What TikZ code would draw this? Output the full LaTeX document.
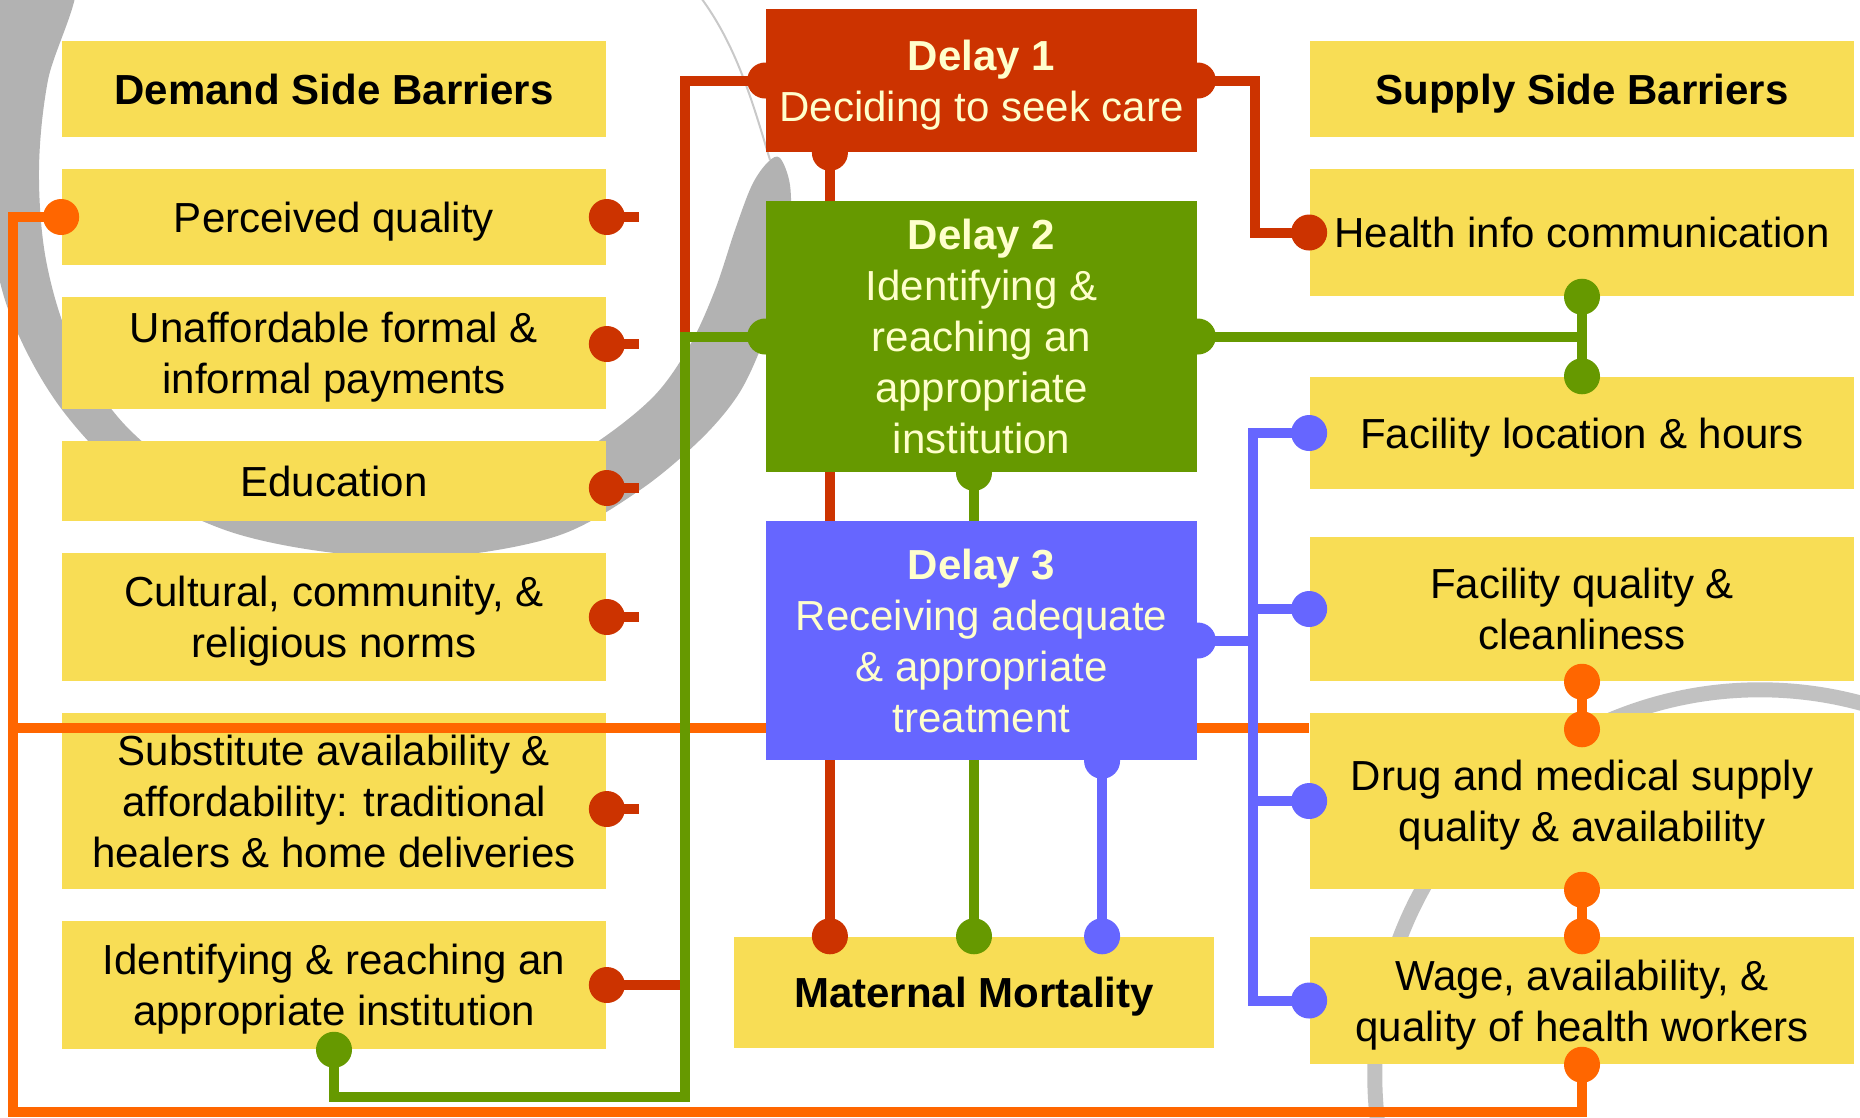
\documentclass[tikz,border=0pt]{standalone}
\usepackage{fontspec}
\setmainfont{Liberation Sans}
\usetikzlibrary{positioning, calc}
\definecolor{barrier_yellow}{RGB}{248, 221, 85}
\definecolor{delay_red}{RGB}{204, 51, 0}
\definecolor{delay_green}{RGB}{102, 153, 0}
\definecolor{delay_blue}{RGB}{102, 102, 255}
\definecolor{link_orange}{RGB}{255, 102, 0}
\definecolor{cream}{RGB}{255, 255, 204}
\definecolor{mark_gray}{RGB}{178, 178, 178}
\pgfdeclarelayer{wires}
\pgfdeclarelayer{top}
\pgfdeclarelayer{knobs}
\pgfsetlayers{main,wires,top,knobs}
\def \tstrut {\rule[-2.9pt]{0pt}{14.36pt}}

\begin{document}
\begin{tikzpicture}[
    x=0.01cm, y=-0.01cm,
    barrier/.style={
        rectangle,
        fill=barrier_yellow,
        minimum width=5.44cm,
        minimum height=#1,
        inner sep=0pt,
        text=black,
        align=center,
        font=\fontsize{11.95}{14.5}\selectfont
    },
    header/.style={
        barrier=#1,
        font=\fontsize{11.95}{14.5}\selectfont\bfseries
    },
    delay/.style={
        rectangle,
        fill=#1,
        minimum width=4.31cm,
        inner sep=0pt,
        text=cream,
        align=center,
        font=\fontsize{11.95}{14.5}\selectfont
    },
    wire/.style={
        draw=#1,
        line width=0.1cm
    }
]
\useasboundingbox (0,0) rectangle (1860,1117);

% Define column positions
\def\colL{334}    % demand side
\def\colM{981.5}  % delays
\def\colR{1582}   % supply side

% Watermark brush rings
\begin{scope}
\clip (0,0) rectangle (1860,1117);
\fill[mark_gray] plot[smooth cycle, tension=0.55] coordinates {
    (75,-20) (48,80) (39,170) (46,260) (72,345) (125,425) (205,485)
    (314,518) (425,515) (525,485) (600,440) (655,395) (690,345)
    (715,290) (735,230) (752,185) (768,162) (780,158) (790,185)
    (790,230) (780,290) (762,345) (738,395) (700,440) (640,490)
    (560,535) (450,556) (335,553) (225,530) (130,480) (55,400)
    (5,300) (-15,180) (-15,60) (-5,-20)};
\draw[mark_gray!70, line width=0.02cm] (770,160) .. controls (752,100) and (735,40) .. (695,-10);
\draw[mark_gray!80, line width=0.15cm] (1760,1075) circle[radius=3.85cm];
\end{scope}

% Demand side barriers
\node[header=0.96cm] (demand) at (\colL,89) {\tstrut Demand Side Barriers\tstrut};
\node[barrier=0.96cm] (perc) at (\colL,217) {\tstrut Perceived quality\tstrut};
\node[barrier=1.12cm] (unaff) at (\colL,353) {\tstrut Unaffordable formal \&\\informal payments\tstrut};
\node[barrier=0.80cm] (educ) at (\colL,481) {\tstrut Education\tstrut};
\node[barrier=1.28cm] (cult) at (\colL,617) {\tstrut Cultural, community, \&\\religious norms\tstrut};
\node[barrier=1.76cm] (subst) at (\colL,801) {\tstrut Substitute availability \&\\affordability: traditional\\healers \& home deliveries\tstrut};
\node[barrier=1.28cm] (ident) at (\colL,985) {\tstrut Identifying \& reaching an\\appropriate institution\tstrut};

% Supply side barriers
\node[header=0.96cm] (supply) at (\colR,89) {\tstrut Supply Side Barriers\tstrut};
\node[barrier=1.27cm] (health) at (\colR,232.5) {\tstrut Health info communication\tstrut};
\node[barrier=1.12cm] (floc) at (\colR,433) {\tstrut Facility location \& hours\tstrut};
\node[barrier=1.44cm] (fqual) at (\colR,609) {\tstrut Facility quality \&\\cleanliness\tstrut};
\node[barrier=1.76cm] (drug) at (\colR,801) {\tstrut Drug and medical supply\\quality \& availability\tstrut};
\node[barrier=1.27cm] (wage) at (\colR,1000.5) {\tstrut Wage, availability, \&\\quality of health workers\tstrut};

% Outcome
\node[header=1.11cm, minimum width=4.80cm] (mm) at (974,992.5) {\tstrut Maternal Mortality\tstrut};

% The three delays
\begin{pgfonlayer}{top}
\node[delay=delay_red, minimum height=1.43cm] (d1) at (\colM,80.5) {\tstrut\textbf{Delay 1}\\Deciding to seek care\tstrut};
\node[delay=delay_green, minimum height=2.71cm] (d2) at (\colM,336.5) {\tstrut\textbf{Delay 2}\\Identifying \&\\reaching an\\appropriate\\institution\tstrut};
\node[delay=delay_blue, minimum height=2.39cm] (d3) at (\colM,640.5) {\tstrut\textbf{Delay 3}\\Receiving adequate\\\& appropriate\\treatment\tstrut};
\end{pgfonlayer}

\begin{pgfonlayer}{wires}
% Orange loop
\draw[wire=link_orange] (perc.west) -- ++(-48,0) coordinate (obend) |- ([yshift=-0.47cm]wage.south) -- (wage.south);
\coordinate (omid) at (obend |- 0,728);
\draw[wire=link_orange] (omid) -- (omid -| drug.west);
\draw[wire=link_orange] (fqual.south) -- ([yshift=-0.17cm]drug.north);
\draw[wire=link_orange] (drug.south) -- (wage.north);

% Delay 1 links
\draw[wire=delay_red] (d1.west) -- ++(-80,0) coordinate (rbend) -- (rbend |- d2.west);
\draw[wire=delay_red] (d1.east) -- ++(57,0) |- (health.west);
\draw[wire=delay_red] ([xshift=-1.515cm]d1.south) -- ([xshift=-1.515cm]d1.south |- mm.north);
\foreach \n/\dy in {perc/0, unaff/0.09, educ/-0.07, cult/0, subst/-0.08}
    \draw[wire=delay_red] ([yshift=\dy cm]\n.east) -- ++(32,0);
\draw[wire=delay_red] (ident.east) -- (ident.east -| rbend);

% Delay 2 links
\draw[wire=delay_green] (d2.west) -- (rbend |- d2.west) |- ([yshift=-0.47cm]ident.south) -- (ident.south);
\draw[wire=delay_green] (d2.east) -- (d2.east -| health.south);
\draw[wire=delay_green] (health.south) -- (floc.north);
\draw[wire=delay_green] ([xshift=-0.075cm]d2.south) -- ([xshift=-0.075cm]d2.south |- mm.north);

% Delay 3 links
\draw[wire=delay_blue] (d3.east) -- ++(57,0);
\draw[wire=delay_blue] (floc.west) -- ++(-56,0) coordinate (bbend) |- (wage.west);
\foreach \n in {fqual, drug}
    \draw[wire=delay_blue] (\n.west) -- (\n.west -| bbend);
\draw[wire=delay_blue] ([xshift=1.205cm]d3.south) -- ([xshift=1.205cm]d3.south |- mm.north);
\end{pgfonlayer}

% Round ends of the links
\begin{pgfonlayer}{knobs}
\foreach \n/\dy in {perc/0, unaff/0.09, educ/-0.07, cult/0, subst/-0.08, ident/0}
    \fill[delay_red] ([yshift=\dy cm]\n.east) circle[radius=0.18cm];
\foreach \p in {d1.west, d1.east, health.west}
    \fill[delay_red] (\p) circle[radius=0.18cm];
\fill[delay_red] ([xshift=-1.515cm]d1.south) circle[radius=0.18cm];
\fill[delay_red] ([xshift=-1.44cm]mm.north) circle[radius=0.18cm];
\foreach \p in {d2.west, d2.east, health.south, floc.north, mm.north, ident.south}
    \fill[delay_green] (\p) circle[radius=0.18cm];
\fill[delay_green] ([xshift=-0.075cm]d2.south) circle[radius=0.18cm];
\foreach \p in {d3.east, floc.west, fqual.west, drug.west, wage.west}
    \fill[delay_blue] (\p) circle[radius=0.18cm];
\fill[delay_blue] ([xshift=1.205cm]d3.south) circle[radius=0.18cm];
\fill[delay_blue] ([xshift=1.28cm]mm.north) circle[radius=0.18cm];
\foreach \p in {perc.west, fqual.south, drug.south, wage.north, wage.south}
    \fill[link_orange] (\p) circle[radius=0.18cm];
\fill[link_orange] ([yshift=-0.17cm]drug.north) circle[radius=0.18cm];
\end{pgfonlayer}

\end{tikzpicture}
\end{document}
